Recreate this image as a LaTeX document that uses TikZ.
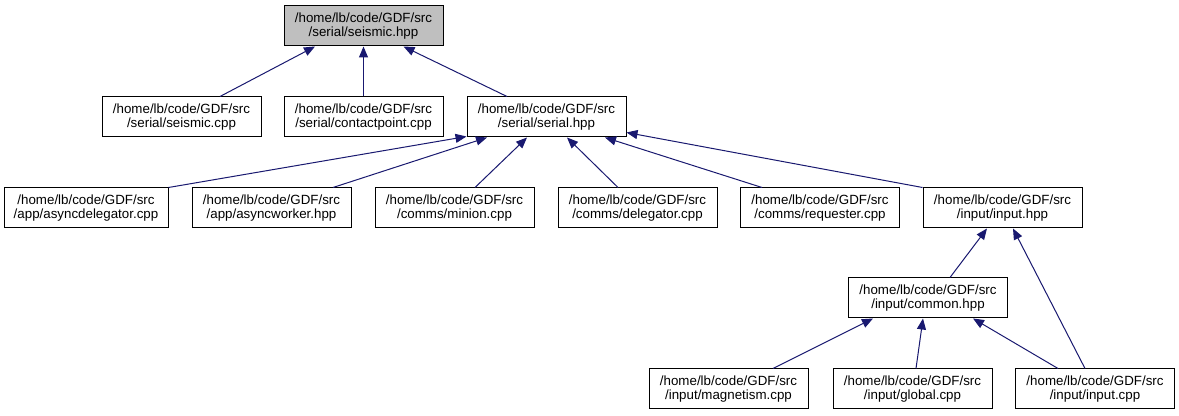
\documentclass[tikz,border=0pt]{standalone}
\usepackage{fontspec}
\setmainfont{Liberation Sans}
\usetikzlibrary{arrows.meta,calc}
\definecolor{edgeblue}{HTML}{191970}
\definecolor{focusgrey}{HTML}{BFBFBF}
\begin{document}
\begin{tikzpicture}[x=0.75pt,y=-0.75pt,
  file/.style={draw=black,line width=0.75pt,rectangle,minimum width=119.25pt,minimum height=30pt,
    inner sep=0pt,align=center,font=\fontsize{10pt}{11pt}\selectfont,fill=white},
  focus/.style={file,fill=focusgrey},
  edge/.style={draw=edgeblue,line width=0.75pt,-{Triangle[length=8.25pt,width=6.75pt]}}]
\useasboundingbox (0,0) rectangle (1179,416);
\fill[white] (0,0) rectangle (1179,416);
% nodes
\node[focus] (sh) at (363.5,26) {/home/lb/code/GDF/src\\/serial/seismic.hpp};
\node[file] (sc) at (181.5,117) {/home/lb/code/GDF/src\\/serial/seismic.cpp};
\node[file] (cp) at (363.5,117) {/home/lb/code/GDF/src\\/serial/contactpoint.cpp};
\node[file] (ser) at (546.5,117) {/home/lb/code/GDF/src\\/serial/serial.hpp};
\node[file,minimum width=123pt] (ad) at (86,208) {/home/lb/code/GDF/src\\/app/asyncdelegator.cpp};
\node[file] (aw) at (271.5,208) {/home/lb/code/GDF/src\\/app/asyncworker.hpp};
\node[file] (mi) at (454.5,208) {/home/lb/code/GDF/src\\/comms/minion.cpp};
\node[file] (de) at (637.5,208) {/home/lb/code/GDF/src\\/comms/delegator.cpp};
\node[file] (rq) at (820,208) {/home/lb/code/GDF/src\\/comms/requester.cpp};
\node[file] (ih) at (1002.5,208) {/home/lb/code/GDF/src\\/input/input.hpp};
\node[file] (co) at (928,298) {/home/lb/code/GDF/src\\/input/common.hpp};
\node[file] (mg) at (728.5,389) {/home/lb/code/GDF/src\\/input/magnetism.cpp};
\node[file] (gl) at (912.5,389) {/home/lb/code/GDF/src\\/input/global.cpp};
\node[file] (ic) at (1095,389) {/home/lb/code/GDF/src\\/input/input.cpp};
% edges
\draw[edge] ($(sc.north)+(38.5,0)$) -- ($(sh.south)+(-48.5,0)$);
\draw[edge] (cp.north) -- (sh.south);
\draw[edge] ($(ser.north)+(-39.5,0)$) -- ($(sh.south)+(40,0)$);
\draw[edge] (ad.north east) -- ($(ser.south west)+(0,-1)$);
\draw[edge] ($(aw.north)+(61.5,0)$) -- ($(ser.south)+(-59.5,0)$);
\draw[edge] ($(mi.north)+(20.5,0)$) -- ($(ser.south)+(-19.5,0)$);
\draw[edge] ($(de.north)+(-19.5,0)$) -- ($(ser.south)+(20.5,0)$);
\draw[edge] ($(rq.north)+(-58,0)$) -- ($(ser.south)+(58.5,0)$);
\draw[edge] (ih.north west) -- ($(ser.south east)+(0,-5)$);
\draw[edge] ($(co.north)+(22,0)$) -- ($(ih.south)+(-15.5,0)$);
\draw[edge] ($(ic.north)+(-10,0)$) -- ($(ih.south)+(10.5,0)$);
\draw[edge] ($(mg.north)+(44.5,0)$) -- ($(co.south)+(-55,0)$);
\draw[edge] ($(gl.north)+(3.5,0)$) -- ($(co.south)+(-5,0)$);
\draw[edge] ($(ic.north)+(-37,0)$) -- ($(co.south)+(45,0)$);
\end{tikzpicture}
\end{document}
